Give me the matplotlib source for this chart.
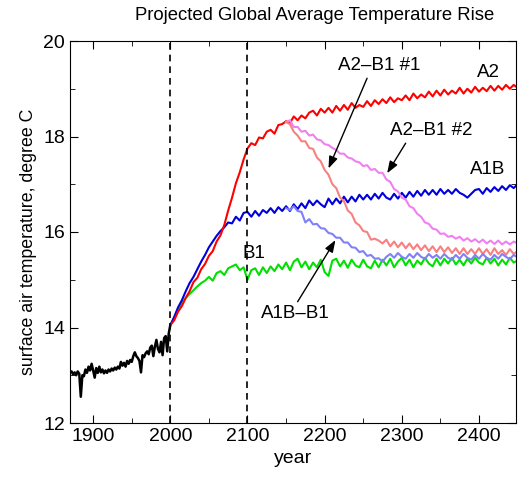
import numpy as np
import matplotlib
matplotlib.use("Agg")
import matplotlib.pyplot as plt
from matplotlib.ticker import MultipleLocator

plt.rcParams['font.family'] = ['Liberation Sans', 'DejaVu Sans']

# observed record, every 2 years
hist_years = np.arange(1870, 2001, 2)
hist_temp = [13.05, 13.08, 13.02, 13.06, 13.0, 13.08, 13.03, 12.55, 13.0, 12.98,
             13.12, 13.05, 13.18, 13.1, 13.24, 13.1, 12.95, 13.15, 13.05, 13.18,
             13.06, 13.12, 13.04, 13.1, 13.05, 13.12, 13.08, 13.14, 13.1, 13.16,
             13.12, 13.18, 13.14, 13.28, 13.2, 13.26, 13.18, 13.3, 13.24, 13.32,
             13.28, 13.4, 13.48, 13.4, 13.36, 13.3, 13.06, 13.42, 13.38, 13.46,
             13.5, 13.44, 13.58, 13.62, 13.4, 13.6, 13.74, 13.55, 13.48, 13.7,
             13.42, 13.78, 13.82, 13.5, 13.88, 14.05]

# scenario runs, every 5 years from 2000
proj_years = np.arange(2000, 2451, 5)
a2 = [14.05, 14.15, 14.33, 14.45, 14.62, 14.76, 14.95, 15.04, 15.22, 15.33,
      15.5, 15.6, 15.8, 15.93, 16.15, 16.45, 16.72, 17.02, 17.25, 17.52,
      17.75, 17.86, 17.82, 17.98, 17.96, 18.1, 18.14, 18.06, 18.24, 18.26,
      18.32, 18.28, 18.42, 18.34, 18.44, 18.38, 18.5, 18.54, 18.44, 18.58,
      18.5, 18.6, 18.5, 18.64, 18.54, 18.66, 18.56, 18.7, 18.6, 18.66,
      18.62, 18.74, 18.64, 18.76, 18.68, 18.78, 18.7, 18.82, 18.72, 18.8,
      18.76, 18.86, 18.76, 18.9, 18.8, 18.88, 18.82, 18.94, 18.84, 18.96,
      18.86, 18.98, 18.88, 18.96, 18.9, 19.02, 18.9, 19.0, 18.92, 19.04,
      18.94, 19.02, 18.95, 19.06, 18.96, 19.06, 18.98, 19.08, 19.0, 19.08,
      19.02]
a1b = [14.05, 14.22, 14.42, 14.57, 14.76, 14.93, 15.06, 15.22, 15.38, 15.52,
       15.68, 15.8, 15.92, 16.02, 16.1, 16.2, 16.18, 16.32, 16.24, 16.4,
       16.42, 16.32, 16.44, 16.34, 16.46, 16.4, 16.5, 16.4, 16.52, 16.44,
       16.54, 16.44, 16.58, 16.48, 16.6, 16.5, 16.66, 16.56, 16.66, 16.58,
       16.52, 16.7, 16.58, 16.7, 16.6, 16.74, 16.62, 16.74, 16.64, 16.78,
       16.68, 16.78, 16.68, 16.8, 16.7, 16.82, 16.72, 16.68, 16.8, 16.7,
       16.82, 16.72, 16.84, 16.74, 16.86, 16.76, 16.88, 16.78, 16.88, 16.78,
       16.9, 16.8, 16.88, 16.8, 16.9, 16.82, 16.78, 16.72, 16.8, 16.88,
       16.9, 16.8, 16.92, 16.84, 16.94, 16.86, 16.96, 16.88, 16.98, 16.92,
       17.0]
b1 = [14.05, 14.2, 14.38, 14.5, 14.62, 14.7, 14.78, 14.86, 14.93, 14.98,
      15.06, 14.98, 15.14, 15.18, 15.1, 15.24, 15.28, 15.32, 15.2, 15.26,
      15.0, 15.2, 15.24, 15.1, 15.26, 15.14, 15.28, 15.18, 15.32, 15.22,
      15.36, 15.2, 15.38, 15.44, 15.26, 15.38, 15.22, 15.36, 15.26, 15.42,
      15.16, 15.08, 15.4, 15.44, 15.28, 15.4, 15.25, 15.42, 15.3, 15.26,
      15.42, 15.28, 15.24, 15.4, 15.26, 15.42, 15.3, 15.44, 15.26, 15.38,
      15.46, 15.3, 15.42, 15.26, 15.4, 15.32, 15.46, 15.34, 15.28, 15.44,
      15.3, 15.44, 15.34, 15.46, 15.32, 15.42, 15.3, 15.44, 15.34, 15.46,
      15.36, 15.32, 15.46, 15.34, 15.44, 15.3, 15.42, 15.32, 15.46, 15.36,
      15.4]

# stabilisation runs branching off in 2150
stab_years = np.arange(2150, 2451, 5)
a2_b1_1 = [18.3, 18.26, 18.1, 18.02, 17.9, 17.9, 17.76, 17.74, 17.56, 17.48,
           17.3, 17.2, 17.0, 16.92, 16.72, 16.65, 16.45, 16.38, 16.2, 16.14,
           16.02, 16.0, 15.84, 15.86, 15.82, 15.76, 15.84, 15.7, 15.8, 15.68,
           15.78, 15.66, 15.76, 15.64, 15.74, 15.62, 15.72, 15.6, 15.7, 15.58,
           15.7, 15.58, 15.68, 15.56, 15.66, 15.54, 15.66, 15.54, 15.64, 15.54,
           15.66, 15.54, 15.64, 15.52, 15.66, 15.54, 15.62, 15.52, 15.64, 15.54,
           15.6]
a2_b1_2 = [18.3, 18.34, 18.2, 18.2, 18.1, 18.12, 18.02, 18.04, 17.94, 17.92,
           17.84, 17.82, 17.76, 17.72, 17.64, 17.64, 17.56, 17.54, 17.48, 17.46,
           17.38, 17.4, 17.3, 17.32, 17.24, 17.24, 17.1, 17.05, 16.9, 16.85,
           16.72, 16.68, 16.54, 16.5, 16.38, 16.32, 16.2, 16.17, 16.07, 16.05,
           15.96, 15.97, 15.9, 15.92, 15.86, 15.9, 15.82, 15.87, 15.8, 15.85,
           15.78, 15.84, 15.76, 15.82, 15.75, 15.82, 15.74, 15.8, 15.74, 15.8,
           15.76]
a1b_b1 = [16.5, 16.46, 16.54, 16.44, 16.42, 16.2, 16.27, 16.16, 16.17, 16.08,
          16.07, 15.98, 15.96, 15.88, 15.88, 15.78, 15.78, 15.68, 15.67, 15.58,
          15.6, 15.5, 15.52, 15.44, 15.45, 15.38, 15.48, 15.54, 15.46, 15.56,
          15.48, 15.44, 15.54, 15.46, 15.56, 15.48, 15.44, 15.54, 15.46, 15.52,
          15.44, 15.54, 15.46, 15.42, 15.52, 15.44, 15.54, 15.46, 15.42, 15.52,
          15.44, 15.54, 15.46, 15.42, 15.52, 15.44, 15.54, 15.48, 15.43, 15.52,
          15.47]

fig = plt.figure(figsize=(5.19, 4.78), dpi=100)
ax = fig.add_axes([70/519, 1-423/478, 446/519, 382/478])

lw = 1.5
ax.plot(hist_years, hist_temp, color='black', lw=1.8)
ax.plot(proj_years, b1, color='#00e000', lw=lw)
ax.plot(proj_years, a1b, color='#0000dd', lw=lw)
ax.plot(proj_years, a2, color='#ff0000', lw=lw)
ax.plot(stab_years, a2_b1_2, color='#f080f0', lw=lw)
ax.plot(stab_years, a2_b1_1, color='#f88080', lw=lw)
ax.plot(stab_years, a1b_b1, color='#8080f8', lw=lw)

ax.axvline(2000, color='black', ls=(0, (4, 3)), lw=1.2)
ax.axvline(2100, color='black', ls=(0, (4, 3)), lw=1.2)

ax.set_xlim(1870, 2448)
ax.set_ylim(12, 20)
ax.xaxis.set_major_locator(MultipleLocator(100))
ax.xaxis.set_minor_locator(MultipleLocator(50))
ax.yaxis.set_major_locator(MultipleLocator(2))
ax.yaxis.set_minor_locator(MultipleLocator(1))
ax.tick_params(which='both', direction='in', top=True, right=True, labelsize=14)
ax.tick_params(which='major', length=6)
ax.tick_params(which='minor', length=3.5)

ax.set_xlabel('year', fontsize=14)
ax.set_ylabel('surface air temperature, degree C', fontsize=12.8)
ax.yaxis.set_label_coords(-0.075, 0.475)
fig.text(315/519, 1-16/478, 'Projected Global Average Temperature Rise',
         ha='center', va='center', fontsize=13.3)

fs = 13.5
ax.text(2412, 19.35, 'A2', ha='center', va='center', fontsize=fs)
ax.text(2271, 19.48, 'A2\u2013B1 #1', ha='center', va='center', fontsize=fs)
ax.text(2338, 18.12, 'A2\u2013B1 #2', ha='center', va='center', fontsize=fs)
ax.text(2411, 17.30, 'A1B', ha='center', va='center', fontsize=fs)
ax.text(2108, 15.54, 'B1', ha='center', va='center', fontsize=fs)
ax.text(2162, 14.30, 'A1B\u2013B1', ha='center', va='center', fontsize=fs)

arrow = dict(arrowstyle='-|>,head_length=0.6,head_width=0.22', color='black',
             lw=1.0, mutation_scale=12, shrinkA=0, shrinkB=0)
ax.annotate('', xy=(2205, 17.33), xytext=(2255, 19.22), arrowprops=arrow)
ax.annotate('', xy=(2281, 17.23), xytext=(2305, 17.86), arrowprops=arrow)
ax.annotate('', xy=(2214, 15.83), xytext=(2165, 14.54), arrowprops=arrow)

fig.savefig('out.png', dpi=100)
